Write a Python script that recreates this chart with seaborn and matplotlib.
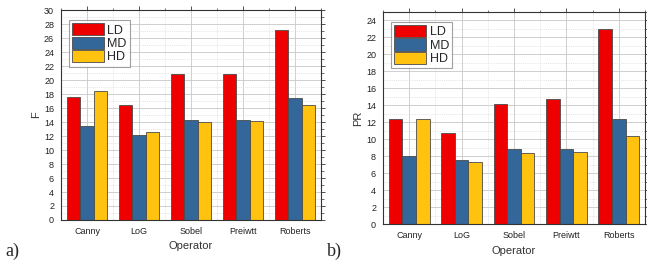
import matplotlib
matplotlib.use("Agg")
import matplotlib.pyplot as plt
from matplotlib.ticker import MultipleLocator, FixedLocator
import seaborn as sns
import pandas as pd

operators = ["Canny", "LoG", "Sobel", "Preiwtt", "Roberts"]
series = ["LD", "MD", "HD"]
f_ld = [17.6, 16.4, 20.9, 20.9, 27.1]
f_md = [13.5, 12.1, 14.3, 14.35, 17.5]
f_hd = [18.4, 12.6, 14.0, 14.1, 16.4]
pr_ld = [12.4, 10.7, 14.2, 14.8, 23.0]
pr_md = [8.0, 7.5, 8.9, 8.9, 12.4]
pr_hd = [12.4, 7.35, 8.35, 8.45, 10.4]

colors = ["#EE0000", "#336699", "#FFC20E"]

sns.set_style("white")
plt.rcParams['font.family'] = ['Liberation Sans', 'DejaVu Sans']


def make_df(ld, md, hd):
    rows = []
    for name, vals in zip(series, [ld, md, hd]):
        for op, v in zip(operators, vals):
            rows.append({"Operator": op, "Series": name, "Value": v})
    return pd.DataFrame(rows)


fig = plt.figure(figsize=(6.47, 2.64), dpi=100)
ax1 = fig.add_axes([0.0943, 0.1667, 0.402, 0.795])
ax2 = fig.add_axes([0.592, 0.1515, 0.405, 0.803])


def draw(ax, df, ylabel, ymax):
    sns.barplot(data=df, x="Operator", y="Value", hue="Series", palette=colors,
                order=operators, hue_order=series, width=0.78, ax=ax,
                edgecolor="#4a4a4a", linewidth=0.6, saturation=1)
    ax.set_xlim(-0.5, 4.5)
    ax.set_ylim(0, ymax)
    ax.yaxis.set_major_locator(MultipleLocator(2))
    ax.yaxis.set_minor_locator(MultipleLocator(1))
    ax.xaxis.set_minor_locator(FixedLocator([-0.5, 0.5, 1.5, 2.5, 3.5, 4.5]))
    ax.set_axisbelow(True)
    ax.grid(True, which="major", color="#c8c8c8", linewidth=0.6)
    ax.grid(True, which="minor", color="#dcdcdc", linewidth=0.5, linestyle=(0, (1.5, 1.5)))
    for s in ax.spines.values():
        s.set_visible(True)
        s.set_color("#333333")
        s.set_linewidth(0.8)
    ax.tick_params(axis="both", which="major", labelsize=6.5, length=3, width=0.6,
                   direction="out", top=True, right=True, pad=2, colors="#333333",
                   labelcolor="#222222")
    ax.tick_params(axis="both", which="minor", length=1.8, width=0.5,
                   direction="out", top=True, right=True, colors="#333333")
    ax.tick_params(axis="x", which="minor", bottom=False)
    ax.set_xlabel("Operator", fontsize=8, color="#333333", labelpad=4)
    ax.set_ylabel(ylabel, fontsize=8, color="#333333", labelpad=2)
    leg = ax.legend(loc="upper left", bbox_to_anchor=(0.02, 0.965), fontsize=9,
                    frameon=True, fancybox=False, edgecolor="#888888",
                    handlelength=2.6, handleheight=1.15, handletextpad=0.25,
                    labelspacing=0.0, borderpad=0.25, borderaxespad=0.2)
    leg.get_frame().set_linewidth(0.8)


draw(ax1, make_df(f_ld, f_md, f_hd), "F", 30)
draw(ax2, make_df(pr_ld, pr_md, pr_hd), "PR", 25)

fig.text(0.008, 0.03, "a)", fontsize=13, family="Liberation Serif")
fig.text(0.505, 0.03, "b)", fontsize=13, family="Liberation Serif")

fig.savefig("out.png", dpi=100)
